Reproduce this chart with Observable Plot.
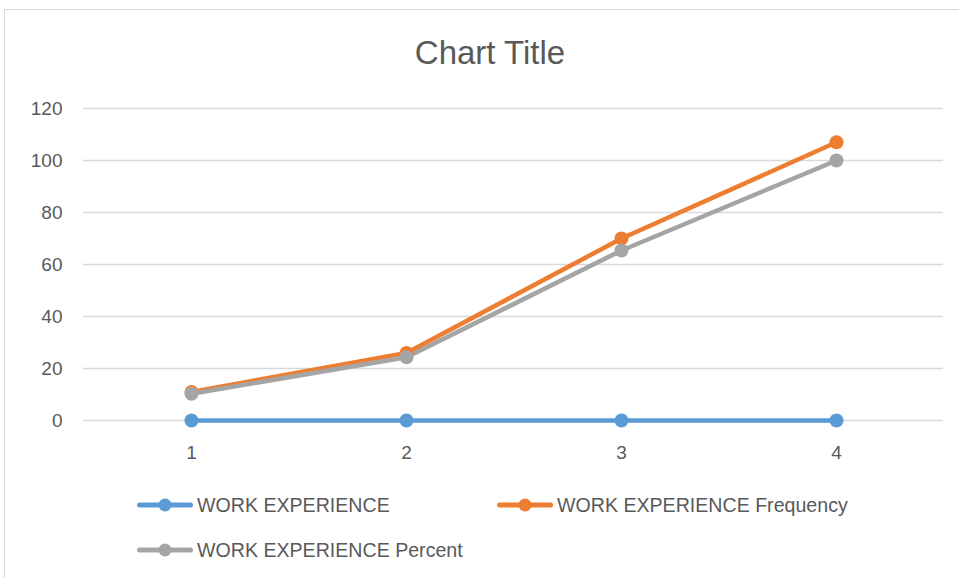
<!DOCTYPE html>
<html>
<head>
<meta charset="utf-8">
<script src="https://cdn.jsdelivr.net/npm/d3@7"></script>
<script src="https://cdn.jsdelivr.net/npm/@observablehq/plot@0.6"></script>
<style>
  html, body { margin: 0; padding: 0; background: #fff; }
  #wrap { position: relative; width: 959px; height: 578px; overflow: hidden; font-family: "Liberation Sans", Arial, sans-serif; color: #595959; }
  #frame { position: absolute; left: 4px; top: 9px; width: 980px; height: 600px; border: 1px solid #d9d9d9; box-sizing: border-box; }
  #chart { position: absolute; left: 0; top: 0; }
  #title { position: absolute; left: 0; width: 980px; top: 33px; text-align: center; font-size: 33px; line-height: 40px; }
  .leg { position: absolute; display: flex; align-items: center; font-size: 19.6px; white-space: nowrap; }
  .leg svg { margin-right: 4px; }
</style>
</head>
<body>
<div id="wrap">
  <div id="frame"></div>
  <div id="chart"></div>
  <div id="title">Chart Title</div>
  <div id="legend"></div>
</div>
<script>
const categories = [1, 2, 3, 4];
const workExperience = [0, 0, 0, 0];
const frequency = [11, 26, 70, 107];
const percent = [10.3, 24.3, 65.4, 100.0];
const seriesNames = ["WORK EXPERIENCE", "WORK EXPERIENCE Frequency", "WORK EXPERIENCE Percent"];
const seriesColors = ["#5b9bd5", "#ed7d31", "#a5a5a5"];
const yTicks = [0, 20, 40, 60, 80, 100, 120];

const seriesValues = [workExperience, frequency, percent];
const data = [];
seriesValues.forEach((vals, s) => {
  vals.forEach((v, i) => data.push({ series: seriesNames[s], x: categories[i], y: v }));
});

const plot = Plot.plot({
  width: 959,
  height: 578,
  marginLeft: 83,
  marginRight: 16,
  marginTop: 108,
  marginBottom: 158,
  style: { fontFamily: "Liberation Sans, Arial, sans-serif", fontSize: "19px", color: "#595959", background: "transparent" },
  x: { type: "point", domain: categories, padding: 0.5 },
  y: { domain: [0, 120] },
  color: { domain: seriesNames, range: seriesColors },
  marks: [
    Plot.gridY(yTicks, { stroke: "#d9d9d9", strokeOpacity: 1, strokeWidth: 1.3 }),
    Plot.axisY({ ticks: yTicks, tickSize: 0, tickPadding: 21, label: null, fontSize: 19 }),
    Plot.axisX({ tickSize: 0, tickPadding: 25, label: null, fontSize: 19 }),
    ...seriesNames.map(name => Plot.line(data.filter(d => d.series === name), {
      x: "x", y: "y", stroke: "series", strokeWidth: 4.5, strokeLinejoin: "round", strokeLinecap: "round"
    })),
    ...seriesNames.map(name => Plot.dot(data.filter(d => d.series === name), {
      x: "x", y: "y", fill: "series", r: 7, stroke: null
    }))
  ]
});
document.getElementById("chart").appendChild(plot);

// legend
const legendPos = [
  { left: 137, top: 493 },
  { left: 497, top: 493 },
  { left: 137, top: 538 }
];
const legend = document.getElementById("legend");
seriesNames.forEach((name, i) => {
  const el = document.createElement("div");
  el.className = "leg";
  el.style.left = legendPos[i].left + "px";
  el.style.top = legendPos[i].top + "px";
  el.style.height = "24px";
  const c = seriesColors[i];
  el.innerHTML = `<svg width="56" height="16"><line x1="2.5" y1="8" x2="53.5" y2="8" stroke="${c}" stroke-width="5" stroke-linecap="round"/><circle cx="28" cy="8" r="6.5" fill="${c}"/></svg><span>${name}</span>`;
  legend.appendChild(el);
});
</script>
</body>
</html>
